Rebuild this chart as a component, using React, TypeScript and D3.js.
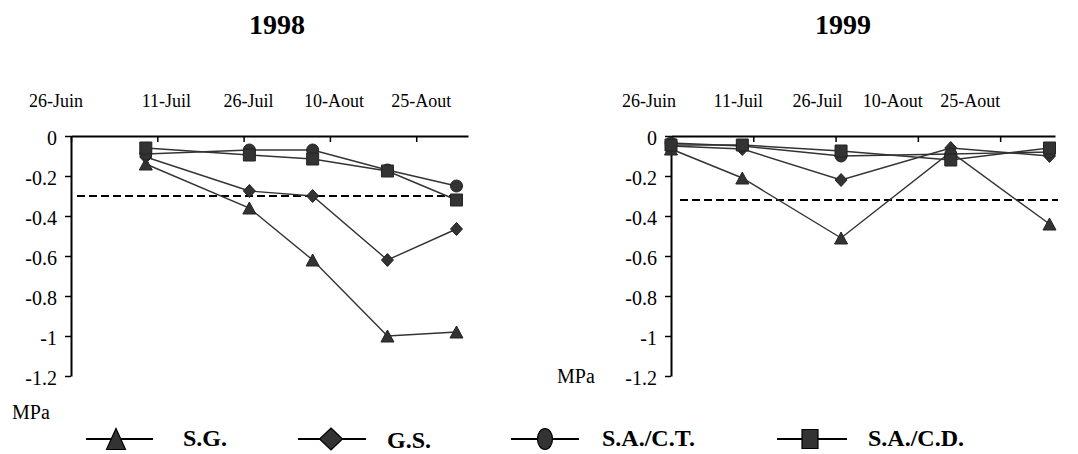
import React, { useEffect, useRef } from 'react';
import * as d3 from 'd3';

// series names (legend order)
const seriesNames = ['S.G.', 'G.S.', 'S.A./C.T.', 'S.A./C.D.'];
const seriesShapes = ['triangle', 'diamond', 'circle', 'square'];

// axis labels
const dateTickLabels = ['26-Juin', '11-Juil', '26-Juil', '10-Aout', '25-Aout'];
const yTickValues = [0, -0.2, -0.4, -0.6, -0.8, -1, -1.2];

// 1998
const ticks1998 = ['1998-06-26', '1998-07-11', '1998-07-26', '1998-08-10', '1998-08-25'];
const dates1998 = ['1998-07-09', '1998-07-27', '1998-08-07', '1998-08-20', '1998-09-01'];
const sg1998 = [-0.14, -0.36, -0.62, -1.0, -0.98];
const gs1998 = [-0.105, -0.275, -0.3, -0.62, -0.465];
const sact1998 = [-0.09, -0.07, -0.07, -0.17, -0.25];
const sacd1998 = [-0.06, -0.095, -0.115, -0.175, -0.32];
const threshold1998 = -0.3;

// 1999
const ticks1999 = ['1999-06-26', '1999-07-11', '1999-07-26', '1999-08-10', '1999-08-25'];
const dates1999 = ['1999-06-26', '1999-07-09', '1999-07-27', '1999-08-16', '1999-09-03'];
const sg1999 = [-0.065, -0.21, -0.51, -0.08, -0.44];
const gs1999 = [-0.05, -0.065, -0.22, -0.06, -0.1];
const sact1999 = [-0.035, -0.05, -0.1, -0.09, -0.08];
const sacd1999 = [-0.045, -0.045, -0.075, -0.12, -0.06];
const threshold1999 = -0.32;

const FONT = "'Liberation Serif', 'Times New Roman', serif";
const INK = '#333';

const parse = d3.timeParse('%Y-%m-%d');

// marker path centred on its bounding box
const markerPath = (shape, w, h) => {
  const a = w / 2, b = h / 2;
  if (shape === 'triangle') return `M0,${-b}L${a},${b}L${-a},${b}Z`;
  if (shape === 'diamond') return `M0,${-b}L${a},0L0,${b}L${-a},0Z`;
  if (shape === 'circle') return `M${-a},0A${a},${b} 0 1,0 ${a},0A${a},${b} 0 1,0 ${-a},0Z`;
  return `M${-a},${-b}H${a}V${b}H${-a}Z`;
};
const markerSize = { triangle: [13, 12], diamond: [12, 13], circle: [12, 12], square: [12, 12] };

const panels = [
  {
    title: '1998', titleX: 277,
    ticks: ticks1998, dates: dates1998, values: [sg1998, gs1998, sact1998, sacd1998],
    threshold: threshold1998,
    domain: ['1998-06-26', '1998-09-03'], left: 71, right: 468,
    labelNudge: [-15, 9, 5, 4, 5], thr: [6, -8],
    mpa: [12, 419],
  },
  {
    title: '1999', titleX: 843,
    ticks: ticks1999, dates: dates1999, values: [sg1999, gs1999, sact1999, sacd1999],
    threshold: threshold1999,
    domain: ['1999-06-26', '1999-09-04'], left: 671, right: 1055,
    labelNudge: [-22, -15, -18, -25, -30], thr: [9, 3],
    mpa: [557, 383],
  },
];

const legendItems = [
  { line: [86, 153], mark: 116, text: 183, base: 446 },
  { line: [298, 366], mark: 331, text: 387, base: 448 },
  { line: [511, 579], mark: 545, text: 602, base: 446 },
  { line: [777, 847], mark: 810, text: 868, base: 446 },
];
const legendMarkSize = { triangle: [19, 21], diamond: [23, 22], circle: [15, 21], square: [16, 19] };

const setFont = (sel, size, weight = 'normal') =>
  sel.style('font-family', FONT).style('font-size', `${size}px`).style('font-weight', weight).attr('fill', '#000');

export default function App() {
  const svgRef = useRef(null);

  useEffect(() => {
    const svg = d3.select(svgRef.current);
    svg.selectAll('*').remove();

    const y = d3.scaleLinear().domain([0, -1.2]).range([136, 376]);

    panels.forEach(p => {
      const x = d3.scaleTime().domain(p.domain.map(parse)).range([p.left, p.right]);
      const g = svg.append('g');

      // title
      g.append('text')
        .attr('x', p.titleX).attr('y', 34)
        .attr('text-anchor', 'middle')
        .call(setFont, 28, 'bold')
        .text(p.title);

      // x axis (top, ticks pointing down)
      const xAxis = d3.axisTop(x)
        .tickValues(p.ticks.map(parse))
        .tickSize(-6)
        .tickSizeOuter(0)
        .tickFormat(() => '');
      const gx = g.append('g').attr('transform', 'translate(0,136)').call(xAxis);
      gx.select('.domain').attr('stroke', '#000').attr('stroke-width', 2);
      gx.selectAll('.tick line').attr('stroke', '#000').attr('stroke-width', 1.5);

      g.selectAll('.xlab')
        .data(p.ticks)
        .join('text')
        .attr('x', (d, i) => x(parse(d)) + p.labelNudge[i])
        .attr('y', 107)
        .attr('text-anchor', 'middle')
        .call(setFont, 18)
        .text((d, i) => dateTickLabels[i]);

      // y axis
      const yAxis = d3.axisLeft(y)
        .tickValues(yTickValues)
        .tickSize(6)
        .tickSizeOuter(0)
        .tickPadding(8)
        .tickFormat(d => String(d));
      const gy = g.append('g').attr('transform', `translate(${p.left},0)`).call(yAxis);
      gy.select('.domain').attr('stroke', '#000').attr('stroke-width', 2);
      gy.selectAll('.tick line').attr('stroke', '#000').attr('stroke-width', 1.5);
      gy.selectAll('.tick text').attr('dy', '0.42em').call(setFont, 20);

      // MPa
      g.append('text')
        .attr('x', p.mpa[0]).attr('y', p.mpa[1])
        .call(setFont, 20)
        .text('MPa');

      // threshold
      g.append('line')
        .attr('x1', p.left + p.thr[0]).attr('x2', p.right + p.thr[1])
        .attr('y1', y(p.threshold)).attr('y2', y(p.threshold))
        .attr('stroke', '#000')
        .attr('stroke-width', 2)
        .attr('stroke-dasharray', '8,4');

      // series
      const line = d3.line()
        .x(d => x(d[0]))
        .y(d => y(d[1]));

      p.values.forEach((vals, si) => {
        const pts = vals.map((v, i) => [parse(p.dates[i]), v]);
        g.append('path')
          .attr('d', line(pts))
          .attr('fill', 'none')
          .attr('stroke', INK)
          .attr('stroke-width', 1.4);
        const shape = seriesShapes[si];
        const [w, h] = markerSize[shape];
        g.selectAll(null)
          .data(pts)
          .join('path')
          .attr('transform', d => `translate(${x(d[0])},${y(d[1])})`)
          .attr('d', markerPath(shape, w, h))
          .attr('fill', INK)
          .attr('stroke', '#222')
          .attr('stroke-width', 1);
      });
    });

    // legend
    const lg = svg.append('g');
    legendItems.forEach((it, i) => {
      const shape = seriesShapes[i];
      const [w, h] = legendMarkSize[shape];
      lg.append('line')
        .attr('x1', it.line[0]).attr('x2', it.line[1])
        .attr('y1', 439).attr('y2', 439)
        .attr('stroke', '#000').attr('stroke-width', 2);
      lg.append('path')
        .attr('transform', `translate(${it.mark},439)`)
        .attr('d', markerPath(shape, w, h))
        .attr('fill', INK)
        .attr('stroke', '#000')
        .attr('stroke-width', 1.2);
      lg.append('text')
        .attr('x', it.text).attr('y', it.base)
        .call(setFont, 24, 'bold')
        .text(seriesNames[i]);
    });
  }, []);

  return (
    <svg
      ref={svgRef}
      width={1078}
      height={454}
      style={{ position: 'absolute', left: 0, top: 0, background: '#fff' }}
    />
  );
}
